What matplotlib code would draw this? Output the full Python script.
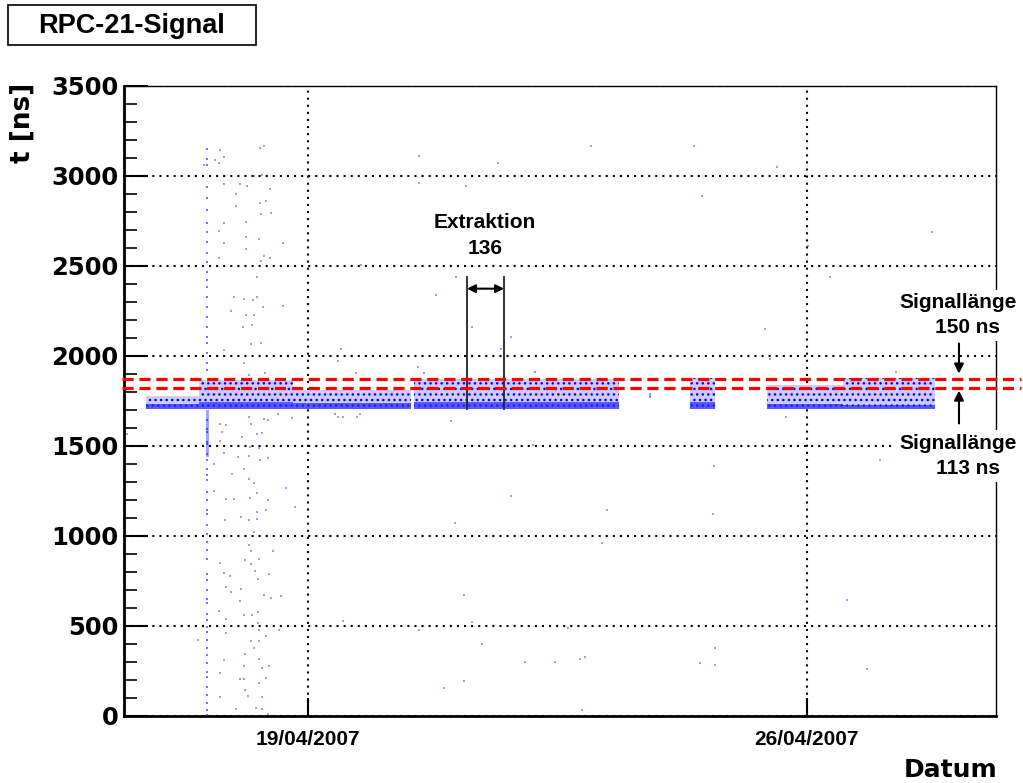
import matplotlib
matplotlib.use("Agg")
import matplotlib.pyplot as plt
import matplotlib.dates as mdates
from matplotlib.patches import Rectangle
import datetime as dt

# April 2007, values given as day of month (fractional)
x_min, x_max = 16.41, 28.66
y_min, y_max = 0, 3500
tick_days = [19, 26]

# dense signal bands: start day, end day, upper edge of cloud, upper edge of dense core
band_start = [16.72, 17.465, 18.785, 20.485, 24.36, 25.44, 26.51]
band_end = [17.465, 18.785, 20.44, 23.36, 24.71, 26.51, 27.80]
band_top = [1780, 1865, 1810, 1870, 1880, 1840, 1880]
band_core = [1735, 1745, 1740, 1745, 1745, 1735, 1725]
band_base = 1705

# vertical noise streak at beam start
streak_day = 17.58
streak_dense = [17.565, 17.60, 1440, 1700]
streak_t = [3152, 3096, 3059, 2939, 2875, 2810, 2736, 2690, 2634, 2570, 2523, 2468,
            2422, 2385, 2329, 2274, 2218, 2163, 2107, 2070, 2015, 1959, 1922,
            1642, 1595, 1577, 1521, 1512, 1457, 1420, 1373, 1336, 1309, 1244, 1198,
            1142, 1124, 1059, 1013, 967, 920, 874, 791, 754, 698, 652, 625, 569,
            532, 495, 467, 421, 375, 338, 292, 246, 218, 162, 116, 70, 33, 5]

# isolated hits
hit_day = [17.76, 17.69, 17.82, 17.74, 17.54, 18.32, 18.38, 18.35, 18.23, 17.82, 18.04,
           18.14, 18.46, 17.98, 17.99, 18.32, 18.40, 18.34, 18.47, 17.82, 18.12, 17.74,
           18.30, 18.12, 17.81, 18.65, 18.12, 18.37, 18.46, 17.75, 18.34, 18.28, 17.96,
           18.10, 18.22, 18.28, 18.36, 18.64, 17.92, 18.13, 18.24, 18.21, 18.08, 18.34,
           18.20, 17.82, 18.09, 18.39, 18.16, 19.46, 19.42, 19.67, 20.55, 20.55, 21.21,
           21.66, 19.74, 21.08, 20.79, 21.30, 21.84, 21.71, 20.54, 20.62, 22.18,
           17.76, 17.85, 18.16, 18.20, 18.38, 18.44, 18.57, 18.77, 17.78, 18.07, 18.28,
           18.35, 17.76, 18.18, 18.31, 17.81, 18.01, 18.16, 18.32, 18.44, 17.68, 18.09,
           17.93, 18.17, 18.23, 18.69, 17.68, 18.28, 17.84, 17.95, 18.18, 18.43, 18.81,
           18.41, 18.28, 17.83, 18.06, 18.17, 18.28, 18.23, 18.16, 18.20, 18.30, 18.50,
           17.76, 18.11, 18.20, 17.82, 17.90, 18.25, 18.45, 18.29, 17.84, 18.06, 17.91,
           18.04, 18.37, 18.48, 18.62, 17.75, 18.09, 18.21, 18.29, 17.85, 18.29, 18.31,
           18.59, 18.40, 17.84, 17.45, 18.19, 18.31, 18.24, 18.11, 17.82, 18.30, 18.45,
           18.35, 18.09, 17.76, 18.40, 18.04, 18.09, 18.31, 18.11, 18.15, 18.35, 17.76,
           17.99, 18.26, 18.35, 18.43, 19.38, 19.42, 19.49, 19.68, 19.73, 21.00, 22.16,
           21.84, 21.06, 21.18, 19.48, 21.30, 20.55, 21.44, 22.05, 22.47, 21.18, 20.90,
           16.45, 22.97, 24.42, 25.59, 24.53, 27.76, 26.02, 26.33, 25.42, 25.48, 27.25,
           25.71, 24.70, 27.03, 23.20, 24.68, 23.13, 26.57, 22.65, 22.81, 22.89, 24.71,
           24.50, 24.71, 26.85, 22.85, 23.80, 23.80, 23.80]
hit_t = [3146, 3091, 3106, 3072, 3059, 3156, 3165, 3004, 2998, 2958, 2958,
         2943, 2926, 2902, 2834, 2851, 2862, 2791, 2795, 2736, 2745, 2695,
         2649, 2662, 2625, 2629, 2597, 2555, 2547, 2547, 2529, 2440, 2325,
         2318, 2311, 2325, 2274, 2277, 2251, 2227, 2227, 2172, 2159, 2074,
         2067, 2033, 1963, 1908, 1895, 2037, 1974, 1908, 3109, 2961, 2947,
         3072, 2505, 2440, 2338, 2163, 2104, 2037, 1941, 1908, 1913,
         1623, 1614, 1660, 1623, 1651, 1642, 1679, 1656, 1577, 1549, 1568,
         1571, 1527, 1494, 1490, 1460, 1438, 1447, 1423, 1433, 1401, 1373,
         1342, 1318, 1294, 1266, 1248, 1240, 1207, 1207, 1213, 1198, 1161,
         1146, 1133, 1090, 1105, 1090, 1094, 1022, 948, 917, 874, 915,
         852, 869, 846, 797, 776, 806, 787, 760, 717, 708, 687,
         641, 671, 658, 667, 582, 560, 562, 575, 540, 514, 480,
         480, 443, 462, 421, 414, 414, 379, 344, 310, 314, 279,
         264, 277, 236, 212, 207, 207, 184, 144, 112, 107, 103,
         38, 42, 38, 11, 1679, 1660, 1660, 1660, 1679, 1638, 1508,
         1220, 1072, 674, 527, 521, 480, 399, 299, 299, 197, 153,
         1564, 3167, 3167, 3050, 2888, 2686, 2610, 2436, 2148, 1983, 1909,
         1660, 1388, 1420, 1142, 1120, 963, 643, 486, 314, 329, 375,
         295, 283, 260, 33, 1790, 1780, 1770]

# signal length markers
sig_upper = 1873
sig_lower = 1823
extr_start, extr_end = 21.229, 21.749
extr_top = 2440
extr_arrow_t = 2374


def to_num(days):
    base = mdates.date2num(dt.datetime(2007, 4, 1))
    if isinstance(days, (list, tuple)):
        return [base + d - 1 for d in days]
    return base + days - 1


plt.rcParams["font.family"] = ["Liberation Sans", "DejaVu Sans"]
plt.rcParams["hatch.color"] = "blue"
plt.rcParams["hatch.linewidth"] = 1.0

fig = plt.figure(figsize=(10.23, 7.83), dpi=100)
ax = fig.add_axes([0.1212, 0.0856, 0.8524, 0.8046])

# bands
for s, e, top, core in zip(band_start, band_end, band_top, band_core):
    xs = to_num([s, e])
    ax.fill_between(xs, [band_base] * 2, [top] * 2, facecolor=(0.8, 0.8, 1.0),
                    edgecolor="none", hatch="...", linewidth=0, zorder=2)
    ax.fill_between(xs, [band_base] * 2, [core] * 2, facecolor=(0.15, 0.15, 1.0),
                    edgecolor="none", linewidth=0, alpha=0.7, zorder=3)

xs = to_num(streak_dense[:2])
ax.fill_between(xs, [streak_dense[2]] * 2, [streak_dense[3]] * 2,
                facecolor=(0.4, 0.4, 1.0), alpha=0.6, linewidth=0, zorder=3)
ax.scatter([to_num(streak_day)] * len(streak_t), streak_t, s=3, marker="s",
           color="blue", alpha=0.55, linewidths=0, zorder=3)
ax.scatter(to_num(hit_day), hit_t, s=2.5, marker="s", color="blue",
           alpha=0.4, linewidths=0, zorder=3)

# red dashed lines, running past the frame on the right
for yv in [sig_upper, sig_lower]:
    ax.plot([-0.002, 1.029], [yv, yv], color="red", lw=2.3, dashes=(3.5, 1.8),
            transform=ax.get_yaxis_transform(), clip_on=False, zorder=6)

# extraction marker
for xv in [extr_start, extr_end]:
    ax.plot([to_num(xv)] * 2, [band_base, extr_top], color="#222222", lw=1.3, zorder=5)
ax.annotate("", xy=(to_num(extr_end), extr_arrow_t), xytext=(to_num(extr_start), extr_arrow_t),
            arrowprops=dict(arrowstyle="<|-|>", color="black", lw=1.5,
                            mutation_scale=12, shrinkA=0, shrinkB=0), zorder=6)
ax.text(to_num(21.48), 2740, "Extraktion", ha="center", va="center",
        fontsize=15, fontweight="bold", zorder=6)
ax.text(to_num(21.48), 2596, "136", ha="center", va="center",
        fontsize=15, fontweight="bold", zorder=6)

# signal length labels, covering the frame
box = dict(facecolor="white", edgecolor="none", pad=2.5)
ax.text(to_num(28.125), 2296, "Signallänge", ha="center", va="center", fontsize=15,
        fontweight="bold", bbox=box, clip_on=False, zorder=7)
ax.text(to_num(28.265), 2157, "150 ns", ha="center", va="center", fontsize=15,
        fontweight="bold", bbox=box, clip_on=False, zorder=7)
ax.text(to_num(28.125), 1514, "Signallänge", ha="center", va="center", fontsize=15,
        fontweight="bold", bbox=box, clip_on=False, zorder=7)
ax.text(to_num(28.265), 1375, "113 ns", ha="center", va="center", fontsize=15,
        fontweight="bold", bbox=box, clip_on=False, zorder=7)
ax.annotate("", xy=(to_num(28.14), 1902), xytext=(to_num(28.14), 2069),
            arrowprops=dict(arrowstyle="-|>", color="black", lw=1.5,
                            mutation_scale=14, shrinkA=0, shrinkB=0), zorder=6)
ax.annotate("", xy=(to_num(28.14), 1808), xytext=(to_num(28.14), 1625),
            arrowprops=dict(arrowstyle="-|>", color="black", lw=1.5,
                            mutation_scale=14, shrinkA=0, shrinkB=0), zorder=6)

# axes
ax.set_xlim(to_num(x_min), to_num(x_max))
ax.set_ylim(y_min, y_max)
ax.xaxis.set_major_locator(matplotlib.ticker.FixedLocator(to_num(tick_days)))
ax.xaxis.set_major_formatter(mdates.DateFormatter("%d/%m/%Y"))
ax.yaxis.set_major_locator(matplotlib.ticker.MultipleLocator(500))
ax.yaxis.set_minor_locator(matplotlib.ticker.MultipleLocator(100))
ax.grid(True, which="major", color="black", linestyle=(0, (1, 2.4)), lw=1.5)
ax.set_axisbelow(True)

ax.tick_params(axis="y", which="major", direction="in", length=17, width=1.5,
               left=True, right=False, pad=4)
ax.tick_params(axis="y", which="minor", direction="in", length=9, width=1.2,
               left=True, right=False)
ax.tick_params(axis="x", which="major", direction="in", length=13, width=1.5,
               bottom=True, top=False, pad=10)
for lab in ax.get_yticklabels():
    lab.set_fontfamily("DejaVu Sans")
    lab.set_fontweight("bold")
    lab.set_fontsize(17.5)
for lab in ax.get_xticklabels():
    lab.set_fontweight("bold")
    lab.set_fontsize(15)

ax.spines["left"].set_linewidth(2.0)
ax.spines["bottom"].set_linewidth(2.0)
ax.spines["top"].set_linewidth(1.0)
ax.spines["right"].set_linewidth(1.0)

fig.text(23 / 1023, 1 - 83 / 783, "t [ns]", rotation=90, ha="center", va="top",
         fontsize=19, fontweight="bold", family="DejaVu Sans")
fig.text(997 / 1023, 1 - 770 / 783, "Datum", ha="right", va="center",
         fontsize=18, fontweight="bold", family="DejaVu Sans")

# title box
fig.patches.append(Rectangle((8 / 1023, 1 - 45 / 783), 248 / 1023, 40 / 783,
                             transform=fig.transFigure, facecolor="white",
                             edgecolor="black", lw=1.2))
fig.text(132 / 1023, 1 - 26 / 783, "RPC-21-Signal", ha="center", va="center",
         fontsize=19.5, fontweight="bold")

fig.savefig("out.png", dpi=100)
